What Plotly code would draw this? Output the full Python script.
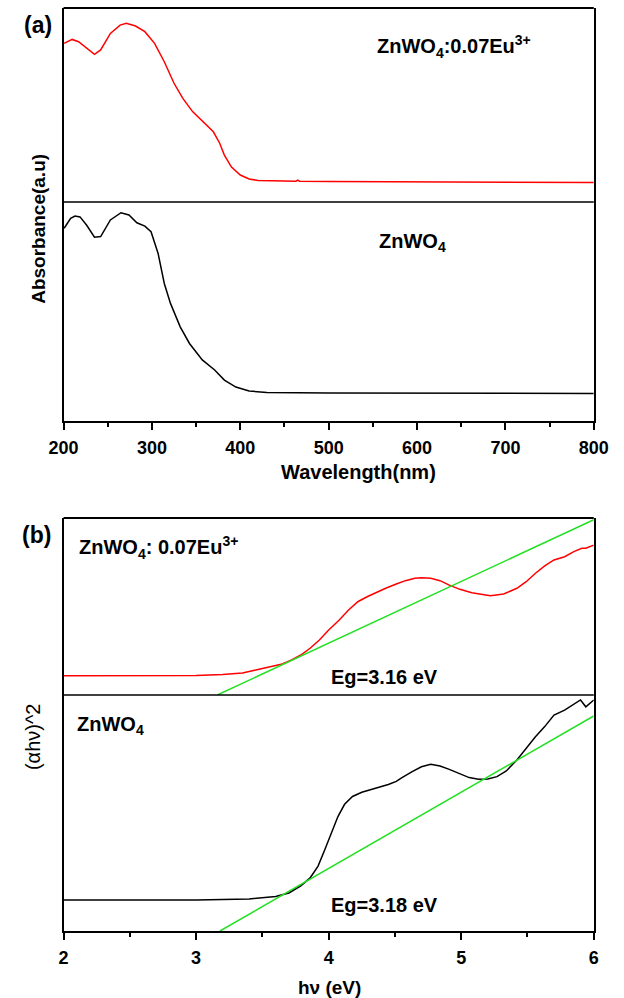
import plotly.graph_objects as go

W, H = 624, 998

# ---- (a) UV-vis absorbance spectra (arbitrary units) ----
wl_eu = [200.7, 209.7, 217, 226, 235, 242, 253, 264, 271, 281.5, 292, 303, 314, 325,
         335, 346, 360.5, 369.5, 376.7, 382, 390, 400, 410, 420, 450, 463, 465, 467,
         500, 600, 700, 800]
abs_eu = [0.818, 0.838, 0.826, 0.792, 0.761, 0.784, 0.869, 0.912, 0.921, 0.907, 0.878,
          0.818, 0.723, 0.612, 0.534, 0.466, 0.405, 0.362, 0.303, 0.242, 0.180, 0.139,
          0.119, 0.111, 0.108, 0.107, 0.113, 0.107, 0.106, 0.103, 0.103, 0.100]

wl_pure = [200.7, 204, 208, 213, 218.6, 226, 235, 242, 253, 265, 274, 283, 292, 299,
           307, 314, 321, 332, 342.5, 357, 371, 382, 395, 410, 430, 500, 600, 800]
abs_pure = [0.880, 0.902, 0.925, 0.936, 0.932, 0.895, 0.839, 0.842, 0.918, 0.951, 0.941,
            0.905, 0.890, 0.864, 0.765, 0.628, 0.537, 0.430, 0.354, 0.279, 0.233, 0.187,
            0.155, 0.137, 0.130, 0.128, 0.128, 0.126]

wl_ticks = [200, 300, 400, 500, 600, 700, 800]
wl_minor = [250, 350, 450, 550, 650, 750]

# ---- (b) Tauc plots (alpha*h*nu)^2 vs photon energy ----
e_eu = [2.0, 2.5, 3.0, 3.2, 3.35, 3.45, 3.55, 3.65, 3.72, 3.79, 3.86, 3.93, 4.00, 4.08,
        4.15, 4.22, 4.29, 4.36, 4.43, 4.51, 4.58, 4.65, 4.70, 4.77, 4.84, 4.91, 4.99,
        5.08, 5.18, 5.22, 5.32, 5.42, 5.49, 5.56, 5.63, 5.70, 5.78, 5.85, 5.91, 5.94, 6.0]
tauc_eu = [0.109, 0.109, 0.110, 0.116, 0.124, 0.141, 0.158, 0.175, 0.198, 0.226, 0.264,
           0.311, 0.367, 0.424, 0.480, 0.527, 0.555, 0.580, 0.603, 0.627, 0.646, 0.659,
           0.663, 0.659, 0.646, 0.621, 0.597, 0.578, 0.565, 0.561, 0.571, 0.603, 0.640,
           0.688, 0.729, 0.763, 0.781, 0.810, 0.829, 0.829, 0.847]

e_pure = [2.0, 3.0, 3.4, 3.6, 3.7, 3.79, 3.86, 3.92, 3.97, 4.02, 4.07, 4.12, 4.18, 4.25,
          4.33, 4.40, 4.45, 4.51, 4.55, 4.63, 4.70, 4.77, 4.84, 4.91, 4.99, 5.06, 5.13,
          5.20, 5.27, 5.34, 5.42, 5.49, 5.56, 5.63, 5.70, 5.78, 5.85, 5.90, 5.94, 5.97, 6.0]
tauc_pure = [0.131, 0.131, 0.136, 0.146, 0.161, 0.191, 0.225, 0.275, 0.343, 0.415, 0.485,
             0.537, 0.570, 0.588, 0.600, 0.611, 0.621, 0.634, 0.649, 0.675, 0.696, 0.706,
             0.699, 0.685, 0.665, 0.650, 0.643, 0.644, 0.654, 0.678, 0.725, 0.774, 0.823,
             0.866, 0.915, 0.936, 0.962, 0.979, 0.950, 0.965, 0.979]

# linear extrapolations of the absorption edge
eg_eu, eg_pure = 3.16, 3.18
fit_x_end = 6.0
fit_y_end_eu, fit_y_end_pure = 0.99, 0.911

e_ticks = [2, 3, 4, 5, 6]
e_minor = [2.5, 3.5, 4.5, 5.5]

RED, BLACK, GREEN = "#ff0000", "#000000", "#22e022"
FONT = "Liberation Sans, Arial, sans-serif"


def px(x):
    return x / W


def py(y):
    return 1 - y / H


X0, X1 = px(51), px(608)

fig = go.Figure()
fig.add_trace(go.Scatter(x=wl_eu, y=abs_eu, mode="lines", line=dict(color=RED, width=1.5),
                         xaxis="x", yaxis="y2"))
fig.add_trace(go.Scatter(x=wl_pure, y=abs_pure, mode="lines", line=dict(color=BLACK, width=1.5),
                         xaxis="x", yaxis="y"))
fig.add_trace(go.Scatter(x=e_eu, y=tauc_eu, mode="lines", line=dict(color=RED, width=1.5),
                         xaxis="x2", yaxis="y4"))
fig.add_trace(go.Scatter(x=[eg_eu, fit_x_end], y=[0, fit_y_end_eu], mode="lines",
                         line=dict(color=GREEN, width=1.5), xaxis="x2", yaxis="y4"))
fig.add_trace(go.Scatter(x=e_pure, y=tauc_pure, mode="lines", line=dict(color=BLACK, width=1.5),
                         xaxis="x2", yaxis="y3"))
fig.add_trace(go.Scatter(x=[eg_pure, fit_x_end], y=[0, fit_y_end_pure], mode="lines",
                         line=dict(color=GREEN, width=1.5), xaxis="x2", yaxis="y3"))

tickfont = dict(family=FONT, size=18, color="black", weight="bold")


def xaxis(domain, anchor, rng, ticks, minor):
    return dict(domain=domain, anchor=anchor, range=rng, tickvals=ticks,
                ticktext=[str(t) for t in ticks], ticks="outside", ticklen=7, tickwidth=2,
                tickcolor="black", showline=True, linewidth=2, linecolor="black",
                showgrid=False, zeroline=False, tickfont=tickfont, ticklabelstandoff=2,
                minor=dict(tickvals=minor, ticks="outside", ticklen=4, tickwidth=2,
                           tickcolor="black", showgrid=False))


def yaxis(domain, anchor):
    return dict(domain=domain, anchor=anchor, range=[0, 1], showline=True, mirror=True,
                linewidth=2, linecolor="black", ticks="", showticklabels=False,
                showgrid=False, zeroline=False)


fig.update_layout(
    width=W, height=H, margin=dict(l=0, r=0, t=0, b=0),
    paper_bgcolor="white", plot_bgcolor="white", showlegend=False,
    xaxis=xaxis([X0, X1], "y", [200, 800], wl_ticks, wl_minor),
    yaxis=yaxis([py(421), py(202)], "x"),
    yaxis2=yaxis([py(202), py(8)], "x"),
    xaxis2=xaxis([X0, X1], "y3", [2, 6], e_ticks, e_minor),
    yaxis3=yaxis([py(931), py(695)], "x2"),
    yaxis4=yaxis([py(695), py(518)], "x2"),
)

# frame tops and layer dividers
for y, w in [(8, 2), (202, 1.5), (518, 2), (695, 1.5)]:
    fig.add_shape(type="line", xref="paper", yref="paper", x0=X0, x1=X1, y0=py(y), y1=py(y),
                  line=dict(color="black", width=w))


def label(text, x, y, size=20, bold=True, xanchor="left", angle=0):
    fig.add_annotation(text=text, xref="paper", yref="paper", x=px(x), y=py(y),
                       xanchor=xanchor, yanchor="middle", showarrow=False, textangle=angle,
                       font=dict(family=FONT, size=size, color="black",
                                 weight="bold" if bold else "normal"))


label("(a)", 24, 25, size=23, xanchor="center")
label("(b)", 23, 535, size=23, xanchor="center")
label("ZnWO<sub>4</sub>:0.07Eu<sup>3+</sup>", 378, 47)
label("ZnWO<sub>4</sub>", 380, 242)
label("ZnWO<sub>4</sub>: 0.07Eu<sup>3+</sup>", 65, 547)
label("ZnWO<sub>4</sub>", 63, 725)
label("Eg=3.16 eV", 330, 677)
label("Eg=3.18 eV", 330, 905)
label("Wavelength(nm)", 361, 472, size=20, xanchor="center")
label("h\u03bd (eV)", 330, 987, size=19, xanchor="center")
label("Absorbance(a.u)", 24, 229, size=19, xanchor="center", angle=-90)
label("(\u03b1h\u03bd)^2", 19, 737, size=20, bold=False, xanchor="center", angle=-90)

fig.write_html("out.html")
